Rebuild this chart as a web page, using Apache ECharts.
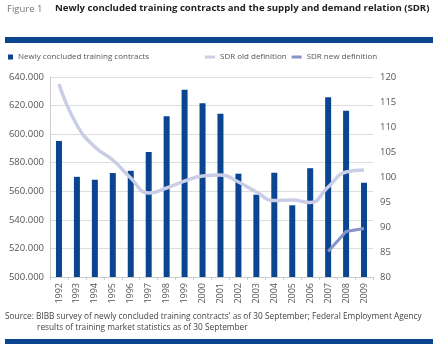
<!DOCTYPE html>
<html>
<head>
<meta charset="utf-8">
<script src="https://cdn.jsdelivr.net/npm/echarts@6/dist/echarts.min.js"></script>
<style>
  html, body { margin: 0; padding: 0; background: #fff; }
  #chart { width: 440px; height: 350px; }
</style>
</head>
<body>
<div id="chart"></div>
<script>
// years on the x axis
var years = ['1992', '1993', '1994', '1995', '1996', '1997', '1998', '1999', '2000',
  '2001', '2002', '2003', '2004', '2005', '2006', '2007', '2008', '2009']
// newly concluded training contracts
var contracts = [595215, 570120, 568082, 572774, 574327, 587517, 612529, 631015, 621693,
  614236, 572323, 557634, 572980, 550180, 576153, 625885, 616342, 566004]
// supply and demand relation, old definition
var sdrOld = [118.6, 110.4, 106.0, 103.4, 99.8, 96.8, 97.8, 99.2, 100.2,
  100.4, 99.0, 97.0, 95.3, 95.4, 94.9, 98.0, 101.0, 101.4]
// supply and demand relation, new definition (from 2007)
var sdrNew = [null, null, null, null, null, null, null, null, null,
  null, null, null, null, null, null, 85.1, 89.1, 89.7]

var font = '"Open Sans", "DejaVu Sans", sans-serif'
var chart = echarts.init(document.getElementById('chart'))

chart.setOption({
  animation: false,
  textStyle: { fontFamily: font },
  graphic: [
    { type: 'text', left: 7, top: 4, style: { text: 'Figure 1', font: '9.5px ' + font, fill: '#777' } },
    { type: 'text', left: 55, top: 3, style: { text: 'Newly concluded training contracts and the supply and demand relation (SDR)', font: 'bold 9.6px ' + font, fill: '#222' } },
    { type: 'rect', shape: { x: 5, y: 37, width: 428, height: 6 }, style: { fill: '#0b4592' } },
    { type: 'rect', shape: { x: 5, y: 339, width: 428, height: 5 }, style: { fill: '#0b4592' } },
    { type: 'text', left: 5, top: 313, style: { text: "Source: BIBB survey of newly concluded training contracts' as of 30 September; Federal Employment Agency", font: '8.3px ' + font, fill: '#444' } },
    { type: 'text', left: 37, top: 324, style: { text: 'results of training market statistics as of 30 September', font: '8.3px ' + font, fill: '#444' } }
  ],
  legend: [
    {
      left: 3, top: 48, itemWidth: 5, itemHeight: 5, itemGap: 4,
      textStyle: { fontSize: 8, color: '#555', fontFamily: font },
      data: [{ name: 'Newly concluded training contracts', icon: 'rect' }]
    },
    {
      left: 200, top: 48, itemWidth: 10, itemHeight: 3, itemGap: 5,
      textStyle: { fontSize: 8, color: '#555', fontFamily: font },
      data: [{ name: 'SDR old definition', icon: 'rect' }, { name: 'SDR new definition', icon: 'rect' }]
    }
  ],
  grid: { left: 50, right: 67, top: 77, bottom: 73 },
  xAxis: {
    type: 'category',
    data: years,
    axisLine: { lineStyle: { color: '#ccc' } },
    axisTick: { show: true, length: 3, lineStyle: { color: '#ccc' } },
    axisLabel: { rotate: 90, fontSize: 9, color: '#555', margin: 6 }
  },
  yAxis: [
    {
      type: 'value', min: 500000, max: 640000, interval: 20000,
      axisLine: { show: true, lineStyle: { color: '#ccc' } },
      splitLine: { lineStyle: { color: '#ddd' } },
      axisLabel: {
        fontSize: 9.5, color: '#555', margin: 6,
        formatter: function (v) { return (v / 1000).toFixed(3) }
      }
    },
    {
      type: 'value', min: 80, max: 120, interval: 5,
      axisLine: { show: false },
      splitLine: { show: false },
      axisLabel: { fontSize: 9.5, color: '#555', margin: 7 }
    }
  ],
  series: [
    {
      name: 'Newly concluded training contracts', type: 'bar',
      data: contracts, barWidth: 6,
      itemStyle: { color: '#0b4592' }
    },
    {
      name: 'SDR old definition', type: 'line', yAxisIndex: 1,
      data: sdrOld, smooth: true, symbol: 'none',
      lineStyle: { color: '#c9cde6', width: 3.5 },
      itemStyle: { color: '#c9cde6' }
    },
    {
      name: 'SDR new definition', type: 'line', yAxisIndex: 1,
      data: sdrNew, symbol: 'none',
      lineStyle: { color: '#8694c8', width: 3 },
      itemStyle: { color: '#8694c8' }
    }
  ]
})
</script>
</body>
</html>
